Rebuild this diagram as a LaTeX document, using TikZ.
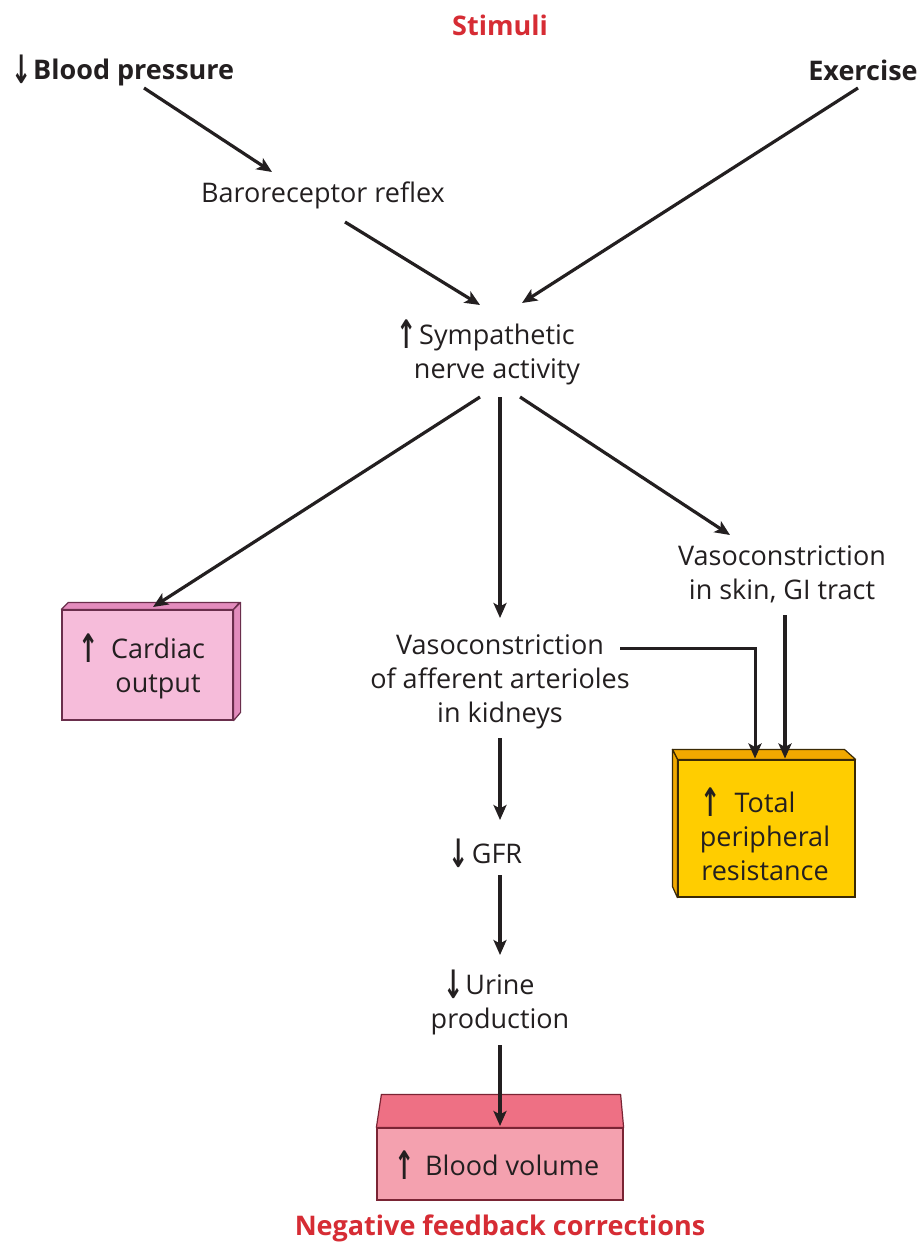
\documentclass[tikz,border=0pt]{standalone}
\usepackage{graphicx}
\usepackage{fontspec}
\setmainfont{Open Sans}
\newfontfamily\symfont{DejaVu Sans}
\usetikzlibrary{arrows.meta,calc}

\definecolor{ink}{HTML}{231F20}
\definecolor{headred}{HTML}{D62C34}
\definecolor{cofront}{HTML}{F6BCDA}
\definecolor{coside}{HTML}{E38CBD}
\definecolor{coedge}{HTML}{6A2E4C}
\definecolor{tpfront}{HTML}{FFCD00}
\definecolor{tpside}{HTML}{F2A900}
\definecolor{tpedge}{HTML}{3B2A05}
\definecolor{bvfront}{HTML}{F4A1AF}
\definecolor{bvtop}{HTML}{EE7084}
\definecolor{bvedge}{HTML}{7A2434}

% increase / decrease marks
\newcommand{\incr}{\raisebox{-4pt}{\symfont\bfseries\scalebox{0.9}[1.45]{↑}}}
\newcommand{\decr}{\raisebox{-4pt}{\symfont\bfseries\scalebox{0.9}[1.45]{↓}}}

\begin{document}
\begin{tikzpicture}[x=1pt,y=-1pt,
  txt/.style={font=\fontsize{27}{34}\selectfont, text=ink, align=center, inner sep=0pt},
  hdr/.style={font=\fontsize{27}{32}\selectfont\bfseries, text=ink, inner sep=0pt},
  ttl/.style={font=\fontsize{27}{32}\selectfont\bfseries, text=headred, inner sep=0pt},
  flow/.style={draw=ink, line width=3.2pt, -{Stealth[length=15pt,width=13pt,inset=3.5pt]}},
  face/.style={line width=1.2pt, line join=round},
  boxfront/.style={draw, line width=1.2pt, inner sep=0pt},
]
\useasboundingbox (0,0) rectangle (923,1249);
\fill[white] (0,0) rectangle (923,1249);

% headings and stimuli
\node[ttl] (stim) at (500,25) {Stimuli};
\node[hdr] (bp) at (123,70) {\decr\hspace{1pt}Blood pressure};
\node[hdr] (ex) at (863,70) {Exercise};
\node[txt] (baro) at (323,195) {Baroreceptor reflex};
\node[txt] (symp) at (497,352) {\llap{\incr\hspace{2pt}}Sympathetic\\nerve activity};

% effector pathways
\node[txt] (vs) at (782,574) {Vasoconstriction\\in skin, GI tract};
\node[txt] (vk) at (500,682) {Vasoconstriction\\of afferent arterioles\\in kidneys};
\node[txt] (gfr) at (497,853) {\llap{\decr\hspace{3pt}}GFR};
\node[txt] (ur) at (500,1002) {\llap{\decr\hspace{2pt}}Urine\\production};

% cardiac output block
\node[boxfront, draw=coedge, fill=cofront, minimum width=171pt, minimum height=110pt] (co) at (147.5,665) {};
\filldraw[face, draw=coedge, fill=coside] (co.north west) -- ++(7,-7) -- ++(171,0) -- (co.north east) -- cycle;
\filldraw[face, draw=coedge, fill=coside] (co.north east) -- ++(7,-7) -- ++(0,110) -- (co.south east) -- cycle;
\node[txt] (cot) at (158,666) {\llap{\incr\hspace{12pt}}Cardiac\\output};

% total peripheral resistance block
\node[boxfront, draw=tpedge, fill=tpfront, minimum width=177pt, minimum height=137pt] (tp) at (766.5,828.5) {};
\filldraw[face, draw=tpedge, fill=tpside] (tp.north west) -- ++(-5,-10) -- ++(172,0) -- (tp.north east) -- cycle;
\filldraw[face, draw=tpedge, fill=tpside] (tp.north west) -- ++(-5,-10) -- ++(0,137) -- (tp.south west) -- cycle;
\node[txt] (tpt) at (765,834) {\llap{\incr\hspace{14pt}}Total\\peripheral\\resistance};

% blood volume block
\node[boxfront, draw=bvedge, fill=bvfront, minimum width=246pt, minimum height=72pt] (bv) at (500,1164) {};
\filldraw[face, draw=bvedge, fill=bvtop] (bv.north west) -- ($(bv.north west)+(5,-33)$) -- ($(bv.north east)+(-3,-33)$) -- (bv.north east) -- cycle;
\node[txt] (bvt) at (497,1165) {\incr\hspace{10pt}Blood volume};

\node[ttl] (neg) at (500,1228) {Negative feedback corrections};

% connectors
\draw[flow] ([shift={(21,18)}]bp.center) -- ([shift={(-51,-23)}]baro.center);
\draw[flow] ([shift={(22,27)}]baro.center) -- ([shift={(-17,-47)}]symp.center);
\draw[flow] ([shift={(-5,18)}]ex.center) -- ([shift={(25,-49)}]symp.center);
\draw[flow] ([shift={(-17,45)}]symp.center) -- ([shift={(5.5,-58)}]co.center);
\draw[flow] ([shift={(3,45)}]symp.center) -- ([shift={(0,-64)}]vk.center);
\draw[flow] ([shift={(23,45)}]symp.center) -- ([shift={(-52,-39)}]vs.center);
\draw[flow] ([shift={(0,56)}]vk.center) -- ([shift={(3,-33)}]gfr.center);
\draw[flow] ([shift={(3,22)}]gfr.center) -- ([shift={(0,-47)}]ur.center);
\draw[flow] ([shift={(0,43)}]ur.center) -- ([shift={(0,-38)}]bv.center);
\draw[flow, line width=3pt] ([shift={(120,-34)}]vk.center) -| ([shift={(-11.5,-70)}]tp.center);
\draw[flow] ([shift={(3,41)}]vs.center) -- ([shift={(18.5,-70)}]tp.center);
\end{tikzpicture}
\end{document}
